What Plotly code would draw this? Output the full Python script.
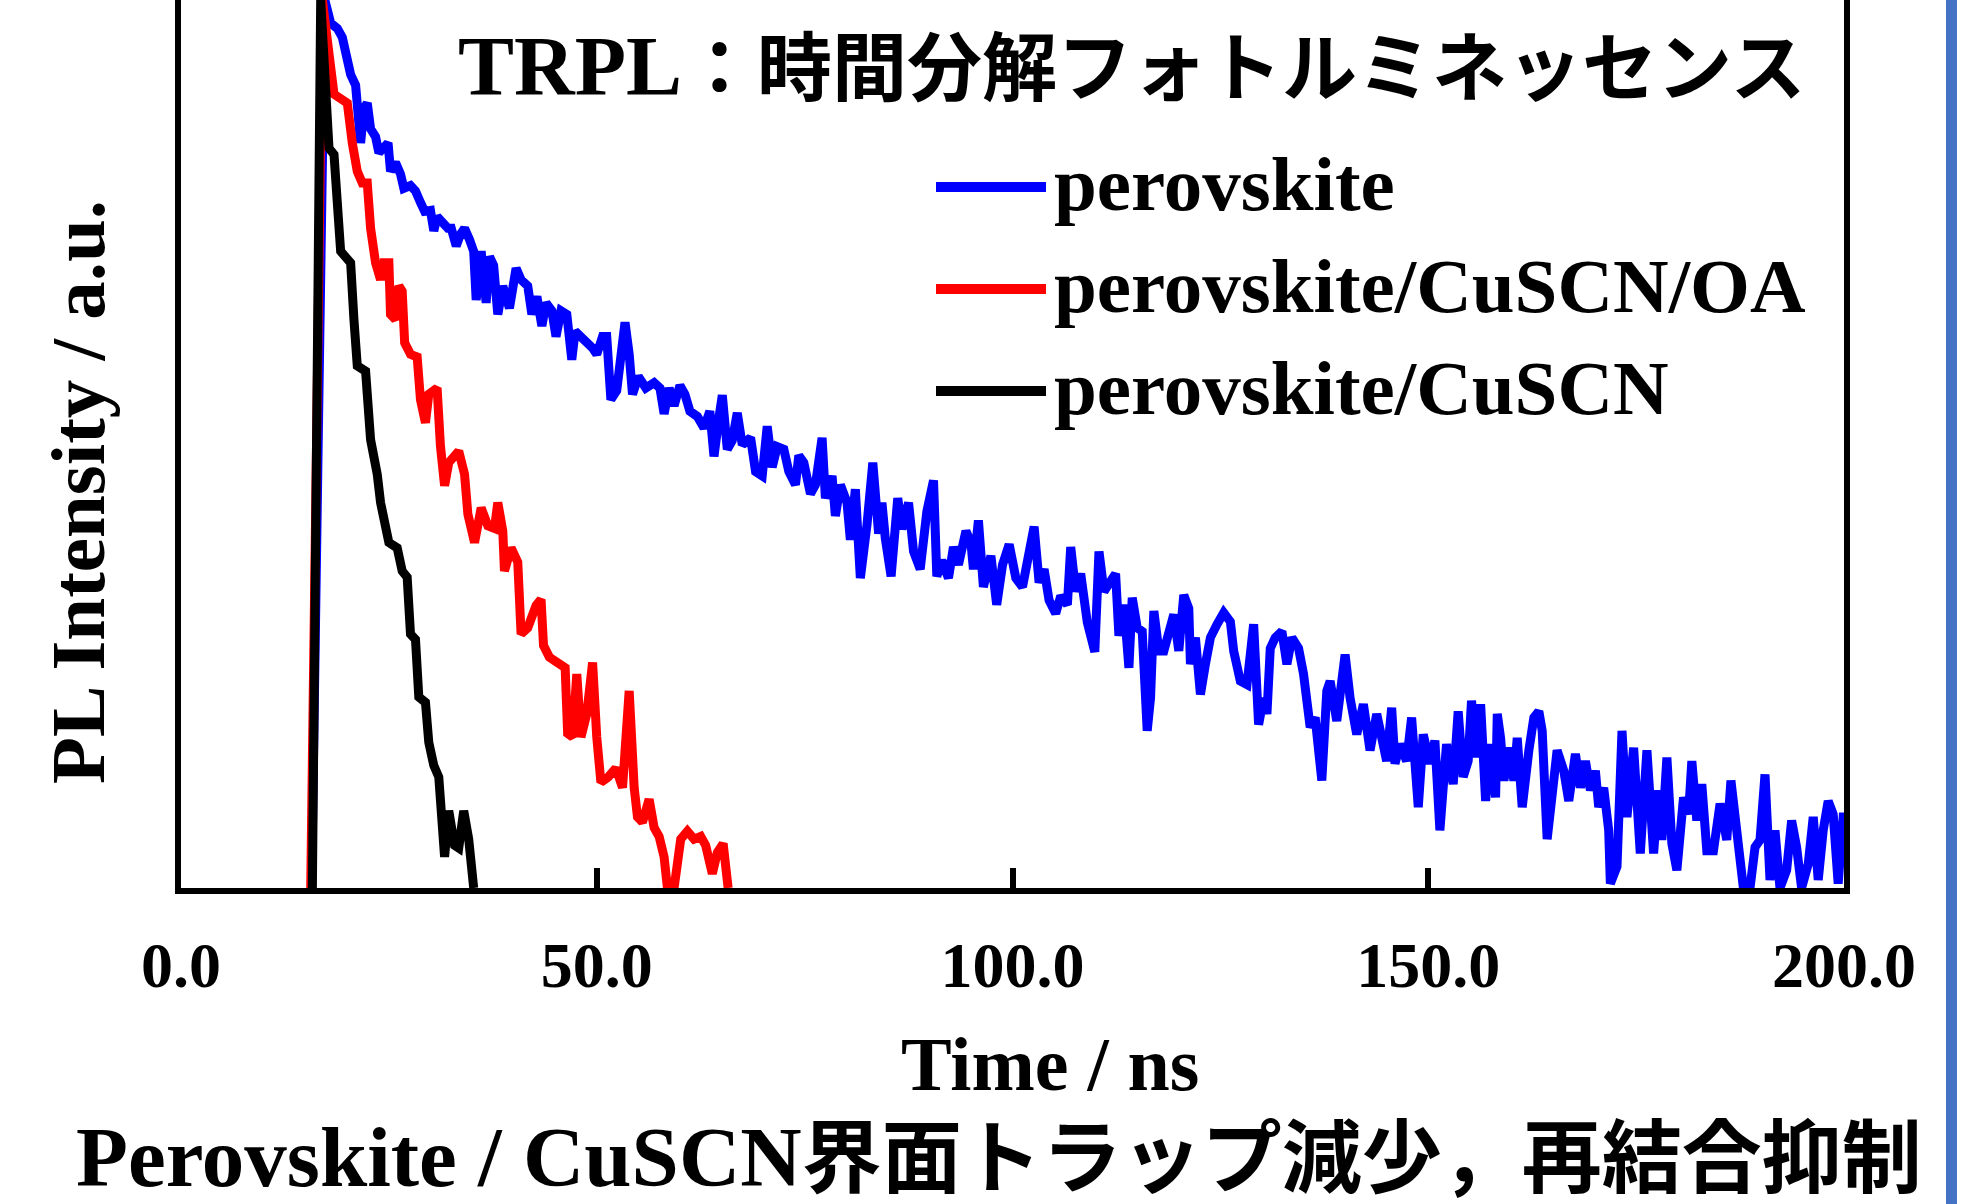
import plotly.graph_objects as go

# ---------------- data (time in ns, normalized PL intensity, a.u.) ----------------
time_black = [15.8, 16.8, 17.8, 18.4, 19.2, 20.4, 20.8, 21.2, 22.2, 22.4, 22.8, 23.6, 24.0,
              25.0, 26.0, 26.6, 27.2, 27.6, 28.2, 28.6, 29.4, 29.8, 30.4, 31.0, 31.4, 31.7, 32.2,
              32.9, 33.4, 34.0, 34.6, 35.2]
pl_black = [0.0, 1.0, 0.833, 0.826, 0.717, 0.704, 0.64, 0.588, 0.582, 0.537, 0.505, 0.466, 0.434,
            0.389, 0.383, 0.357, 0.35, 0.286, 0.28, 0.215, 0.209, 0.164, 0.138, 0.125, 0.08, 0.035, 0.087,
            0.048, 0.045, 0.087, 0.055, 0.0]

time_red = [15.6, 17.0, 18.4, 20.0, 20.6, 21.2, 21.8, 22.4, 22.8, 23.4, 24.0, 24.4, 25.0, 25.2,
            25.8, 26.2, 26.6, 26.9, 27.6, 28.4, 28.8, 29.4, 29.8, 30.8, 31.2, 31.7, 32.2, 33.4, 34.1,
            34.5, 35.3, 36.1, 36.9, 37.7, 38.1, 38.7, 38.9, 39.7, 40.5, 40.9, 41.7, 42.7, 43.3, 43.6,
            44.3, 45.5, 46.2, 46.5, 47.1, 47.6, 48.1, 48.8, 49.5, 50.0, 50.5, 51.4, 52.3, 53.1, 53.9,
            54.5, 54.9, 55.5, 56.3, 56.9, 57.5, 58.1, 58.5, 59.3, 60.1, 60.9, 61.7, 62.5, 63.1, 63.9,
            64.5, 65.2, 65.8]
pl_red = [0.0, 1.0, 0.894, 0.884, 0.839, 0.807, 0.794, 0.794, 0.743, 0.704, 0.685, 0.704, 0.704, 0.646,
          0.640, 0.678, 0.672, 0.614, 0.601, 0.598, 0.55, 0.524, 0.556, 0.563, 0.498, 0.453, 0.479, 0.492, 0.466,
          0.421, 0.389, 0.428, 0.408, 0.405, 0.434, 0.402, 0.357, 0.383, 0.367, 0.286, 0.293, 0.318, 0.325, 0.273,
          0.26, 0.254, 0.248, 0.174, 0.17, 0.241, 0.17, 0.196, 0.254, 0.17, 0.119, 0.125, 0.135, 0.113, 0.222,
          0.113, 0.08, 0.074, 0.1, 0.068, 0.058, 0.035, 0.0, 0.0, 0.055, 0.064, 0.055, 0.058, 0.048, 0.016,
          0.04, 0.05, 0.0]

time_blue = [15.7, 17.3, 18.0, 18.8, 19.4, 19.8, 20.4, 21.0, 21.4, 21.6, 22.0, 22.4, 22.8, 23.4, 23.8,
             24.4, 24.9, 25.2, 25.8, 26.4, 26.8, 27.6, 28.2, 28.8, 29.3, 30.0, 30.4, 30.8, 31.5, 32.1, 32.5,
             33.1, 33.6, 34.1, 34.7, 35.2, 35.5, 36.1, 36.7, 37.1, 37.6, 38.1, 38.7, 39.5, 40.3, 40.9, 41.7,
             42.2, 42.8, 43.4, 43.9, 44.6, 45.1, 45.7, 46.4, 47.0, 47.4, 48.1, 48.8, 49.5, 50.0, 50.7, 51.2,
             51.7, 52.4, 53.0, 53.4, 53.9, 54.3, 55.0, 55.9, 56.9, 57.6, 58.1, 58.7, 59.3, 60.0, 60.6, 61.2,
             62.1, 62.9, 63.6, 64.1, 64.7, 65.1, 65.7, 66.3, 66.9, 67.5, 68.5, 69.1, 69.9, 70.5, 71.1, 71.7,
             72.5, 73.1, 73.9, 74.3, 74.9, 75.7, 76.3, 77.1, 77.5, 78.3, 78.7, 79.3, 80.1, 80.5, 81.1, 81.7,
             82.5, 83.2, 83.9, 84.3, 84.7, 85.4, 86.2, 86.7, 87.5, 88.1, 88.9, 89.7, 90.5, 90.9, 91.5, 92.3,
             92.9, 93.5, 94.4, 95.0, 95.3, 95.9, 96.5, 97.4, 98.1, 98.8, 99.6, 100.4, 101.2, 102.0, 102.6,
             103.2, 103.8, 104.4, 105.2, 105.8, 106.6, 107.0, 107.6, 108.2, 109.0, 109.9, 110.4, 111.0,
             111.8, 112.4, 112.8, 113.4, 114.0, 114.4, 115.0, 115.6, 116.2, 116.6, 117.0, 117.6, 118.2,
             118.8, 119.4, 120.0, 120.6, 121.2, 121.4, 122.0, 122.6, 123.2, 123.8, 124.6, 125.4, 126.2,
             126.6, 127.4, 128.2, 129.0, 129.6, 130.2, 130.6, 131.0, 131.6, 132.4, 133.0, 133.6, 134.4,
             135.0, 135.8, 136.4, 137.2, 137.8, 138.2, 139.0, 140.0, 140.6, 141.4, 142.2, 143.0, 143.8,
             144.4, 145.0, 145.6, 146.0, 146.6, 147.4, 148.0, 148.8, 149.4, 150.2, 150.8, 151.4, 152.2,
             153.0, 153.6, 154.2, 154.8, 155.2, 155.8, 156.3, 156.9, 157.5, 158.1, 158.3, 158.7, 159.1,
             159.7, 160.3, 160.7, 161.3, 162.1, 162.7, 163.3, 163.7, 164.3, 164.9, 165.5, 166.3, 166.9,
             167.7, 168.3, 168.9, 169.5, 170.1, 170.5, 171.1, 171.7, 171.9, 172.7, 173.3, 173.9, 174.7,
             175.5, 176.3, 177.1, 177.7, 178.1, 178.7, 179.3, 179.9, 180.7, 181.3, 181.7, 182.3, 182.9,
             183.5, 184.3, 185.1, 185.9, 186.4, 187.1, 187.9, 188.7, 189.3, 189.9, 190.5, 191.1, 191.7,
             192.3, 193.1, 193.7, 194.3, 194.9, 195.7, 196.3, 196.9, 197.5, 198.1, 198.7, 199.3, 199.9,
             200.0]
pl_blue = [0.0, 1.0, 0.974, 0.968, 0.958, 0.936, 0.916, 0.904, 0.871, 0.839, 0.878, 0.884, 0.855, 0.846, 0.828,
           0.836, 0.839, 0.807, 0.817, 0.804, 0.788, 0.791, 0.785, 0.772, 0.762, 0.763, 0.74, 0.756, 0.749, 0.743, 0.743,
           0.723, 0.736, 0.743, 0.73, 0.717, 0.662, 0.717, 0.659, 0.711, 0.701, 0.646, 0.678, 0.653, 0.698, 0.685, 0.678,
           0.646, 0.666, 0.633, 0.659, 0.65, 0.621, 0.65, 0.646, 0.595, 0.627, 0.621, 0.614, 0.608, 0.601, 0.621, 0.621,
           0.55, 0.56, 0.601, 0.637, 0.601, 0.556, 0.576, 0.563, 0.569, 0.563, 0.534, 0.563, 0.543, 0.566, 0.556, 0.537,
           0.531, 0.518, 0.537, 0.486, 0.53, 0.555, 0.494, 0.504, 0.535, 0.499, 0.507, 0.469, 0.464, 0.52, 0.474, 0.497,
           0.494, 0.469, 0.454, 0.487, 0.479, 0.444, 0.454, 0.507, 0.439, 0.464, 0.419, 0.454, 0.434, 0.392, 0.449, 0.349,
           0.409, 0.479, 0.399, 0.434, 0.394, 0.351, 0.439, 0.404, 0.434, 0.379, 0.359, 0.424, 0.459, 0.351, 0.369, 0.349,
           0.384, 0.364, 0.402, 0.389, 0.359, 0.414, 0.339, 0.374, 0.319, 0.364, 0.387, 0.349, 0.339, 0.374, 0.407,
           0.344, 0.359, 0.324, 0.309, 0.329, 0.319, 0.384, 0.334, 0.354, 0.299, 0.266, 0.379, 0.334,
           0.344, 0.354, 0.284, 0.319, 0.248, 0.327, 0.293, 0.289, 0.177, 0.214, 0.312, 0.267, 0.267,
           0.293, 0.308, 0.267, 0.33, 0.315, 0.252, 0.282, 0.218, 0.252, 0.282, 0.297, 0.31, 0.30,
           0.267, 0.233, 0.229, 0.297, 0.184, 0.214, 0.196, 0.27, 0.282, 0.289, 0.252, 0.282, 0.27,
           0.241, 0.181, 0.192, 0.121, 0.222, 0.233, 0.188, 0.263, 0.214, 0.173, 0.207, 0.155, 0.196,
           0.162, 0.143, 0.203, 0.14, 0.162, 0.143, 0.192, 0.091, 0.173, 0.14, 0.166, 0.065, 0.162,
           0.117, 0.199, 0.125, 0.143, 0.211, 0.147, 0.207, 0.098, 0.162, 0.102, 0.196, 0.169, 0.121,
           0.158, 0.121, 0.169, 0.091, 0.155, 0.192, 0.199, 0.177, 0.055, 0.113, 0.155, 0.132, 0.098,
           0.151, 0.113, 0.143, 0.110, 0.132, 0.091, 0.113, 0.065, 0.005, 0.024, 0.177, 0.08, 0.158,
           0.039, 0.155, 0.039, 0.110, 0.054, 0.147, 0.05, 0.02, 0.102, 0.083, 0.143, 0.076, 0.117,
           0.042, 0.042, 0.095, 0.054, 0.121, 0.065, 0.0, 0.0, 0.046, 0.054, 0.128, 0.009, 0.065,
           0.0, 0.02, 0.076, 0.046, 0.0, 0.027, 0.08, 0.009, 0.065, 0.098, 0.083, 0.005, 0.08,
           0.08]

series_names = ["perovskite", "perovskite/CuSCN/OA", "perovskite/CuSCN"]
series_colors = ["#0000FF", "#FF0000", "#000000"]

x_tick_values = [0, 50, 100, 150, 200]
x_tick_labels = ["0.0", "50.0", "100.0", "150.0", "200.0"]

title_latin = "TRPL"
title_jp = "：時間分解フォトルミネッセンス"
caption_latin = "Perovskite / CuSCN"
caption_jp = "界面トラップ減少，再結合抑制"
x_title = "Time / ns"
y_title = "PL Intensity / a.u."

# ---------------- layout geometry ----------------
W, H = 1978, 1204
ML, MR, MT, MB = 181, 134, 0, 316
PW = W - ML - MR
PH = H - MT - MB


def fx(px):
    return (px - ML) / PW


def fy(py):
    return (MT + PH - py) / PH


SERIF = "Liberation Serif, 'Times New Roman', 'Noto Sans CJK JP', serif"

fig = go.Figure()
for t, v, name, col in [(time_blue, pl_blue, series_names[0], series_colors[0]),
                        (time_red, pl_red, series_names[1], series_colors[1]),
                        (time_black, pl_black, series_names[2], series_colors[2])]:
    fig.add_trace(go.Scatter(x=t, y=v, mode="lines", name=name,
                             line=dict(color=col, width=9), showlegend=False))

fig.update_layout(
    width=W, height=H,
    margin=dict(l=ML, r=MR, t=MT, b=MB, autoexpand=False),
    paper_bgcolor="white", plot_bgcolor="white",
    showlegend=False,
    xaxis=dict(range=[0, 200], tickvals=x_tick_values, ticktext=x_tick_labels,
               ticks="inside", ticklen=20, tickwidth=6, tickcolor="black",
               showline=True, linewidth=6, linecolor="black", mirror=False,
               showgrid=False, zeroline=False, layer="below traces",
               tickfont=dict(family=SERIF, size=64, color="black", weight="bold"),
               ticklabelstandoff=16),
    yaxis=dict(range=[0, 1.0], showticklabels=False, ticks="",
               showline=True, linewidth=6, linecolor="black", mirror=True,
               showgrid=False, zeroline=False, layer="below traces"),
)

annotations = []
# title
annotations.append(dict(
    xref="paper", yref="paper", x=fx(1808), y=fy(66), xanchor="right", yanchor="middle",
    text=title_latin + '<span style="font-size:75px">' + title_jp + '</span>',
    showarrow=False, font=dict(family=SERIF, size=84, color="black", weight="bold")))
# legend
legend_y = [187, 289, 391]
shapes = []
for name, col, ly in zip(series_names, series_colors, legend_y):
    shapes.append(dict(type="line", xref="paper", yref="paper",
                       x0=fx(936), x1=fx(1046), y0=fy(ly), y1=fy(ly),
                       line=dict(color=col, width=10)))
    annotations.append(dict(
        xref="paper", yref="paper", x=fx(1052), y=fy(ly - 3), xanchor="left", yanchor="middle",
        text=name, showarrow=False,
        font=dict(family=SERIF, size=77, color="black", weight="bold")))
# axis titles
annotations.append(dict(
    xref="paper", yref="paper", x=fx(1050), y=fy(1064), xanchor="center", yanchor="middle",
    text=x_title, showarrow=False,
    font=dict(family=SERIF, size=76, color="black", weight="bold")))
annotations.append(dict(
    xref="paper", yref="paper", x=fx(78), y=fy(492), xanchor="center", yanchor="middle",
    text=y_title, textangle=-90, showarrow=False,
    font=dict(family=SERIF, size=77, color="black", weight="bold")))
# caption
annotations.append(dict(
    xref="paper", yref="paper", x=fx(74), y=fy(1157), xanchor="left", yanchor="middle",
    text=caption_latin + '<span style="font-size:80px">' + caption_jp + '</span>',
    showarrow=False, font=dict(family=SERIF, size=85, color="black", weight="bold")))

# slide accent bar on the right
shapes.append(dict(type="rect", xref="paper", yref="paper",
                   x0=fx(1946), x1=fx(1957), y0=fy(H + 5), y1=fy(-5),
                   fillcolor="#4472C4", line=dict(width=0), layer="above"))

fig.update_layout(annotations=annotations, shapes=shapes)
fig.write_html("out.html")
